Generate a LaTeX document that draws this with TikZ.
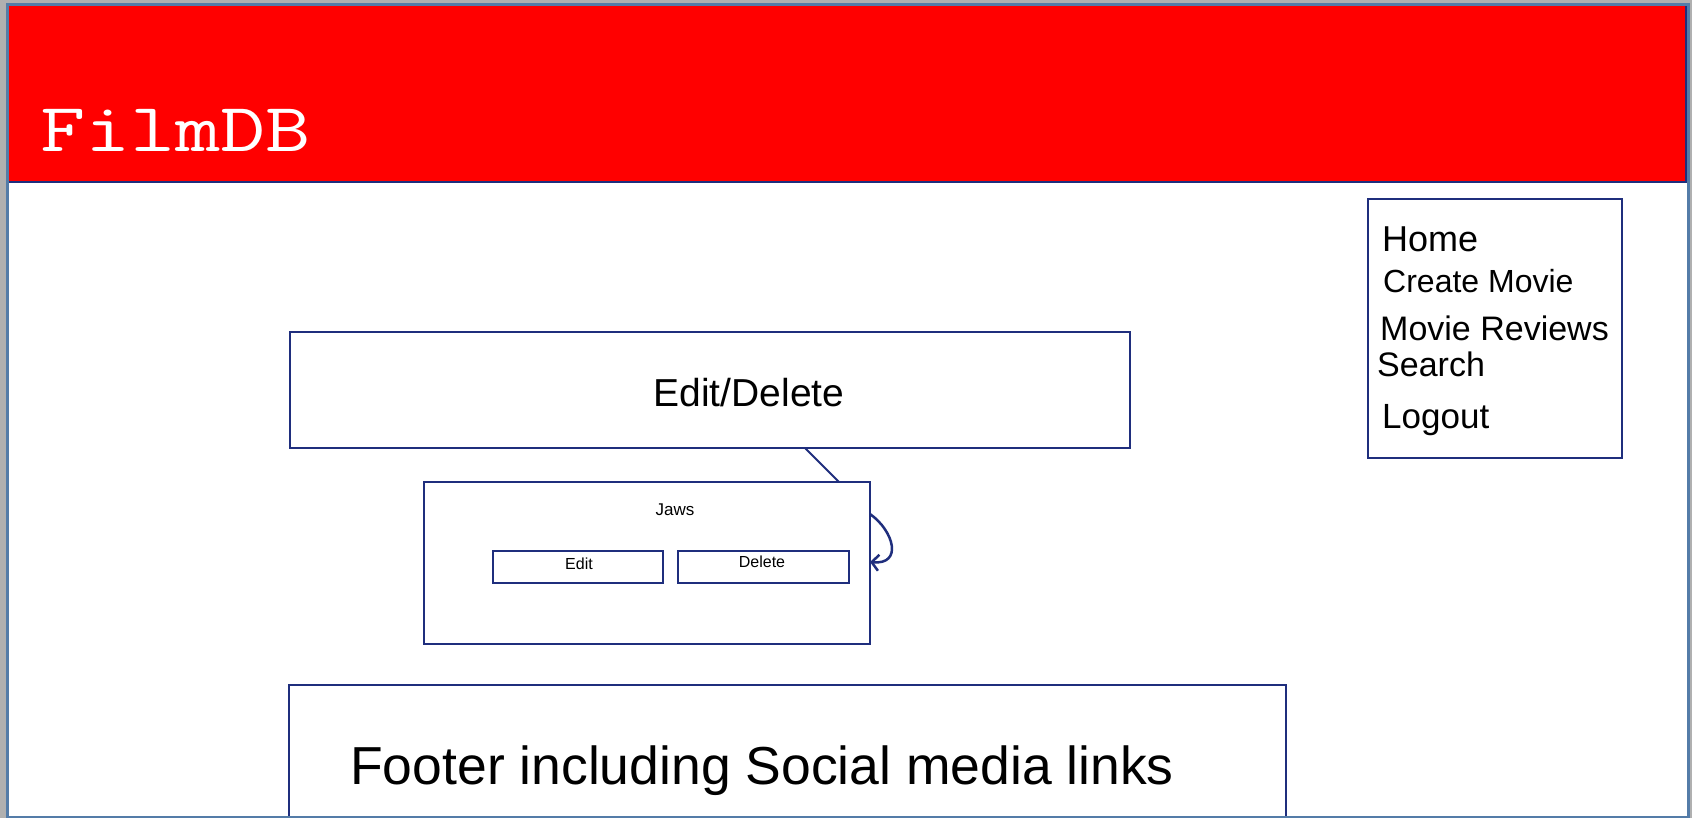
\documentclass[tikz,border=0pt]{standalone}
\usepackage{fontspec}
\setmainfont{Liberation Sans}
\usetikzlibrary{arrows.meta,positioning}
\definecolor{r255g0b0}{rgb}{1.000000,0.000000,0.000000}
\definecolor{r31g46b125}{rgb}{0.121569,0.180392,0.490196}
\definecolor{r84g124b168}{rgb}{0.329412,0.486275,0.658824}
\definecolor{r176g176b176}{rgb}{0.690196,0.690196,0.690196}
\tikzset{
  box/.style={draw=r31g46b125, line width=2.5pt, rectangle, inner sep=0pt, outer sep=0pt},
  txt/.style={inner sep=0pt, anchor=base west, text=black},
  ctxt/.style={inner sep=0pt, anchor=base, text=black},
}
\begin{document}
\begin{tikzpicture}[x=1pt,y=-1pt]
    \useasboundingbox (0,0) rectangle (1692,818);

    % Drawing window background
    \fill [r176g176b176] (0,0) rectangle (1692,818);
    \fill [white] (7,5) rectangle (1688,817);

    % Drawing header bar
    \node [fill=r255g0b0, minimum width=1678pt, minimum height=176pt, inner sep=0pt] (header) at (847,94) {};
    \draw [r31g46b125, line width=2.5pt] (header.south west) -- (header.south east) -- (header.north east);
    \node [txt, text=white, font=\ttfamily\fontsize{69}{75}\selectfont] (logo) at (40,152) {\scalebox{1.27}[1]{FilmDB}};

    % Drawing menu box
    \node [box, minimum width=254pt, minimum height=259pt] (menu) at (1495,328.5) {};
    \node [txt, font=\fontsize{36}{40}\selectfont] (home) at (1382,252) {Home};
    \node [txt, font=\fontsize{32}{36}\selectfont] (create) at (1383,293) {Create Movie};
    \node [txt, font=\fontsize{34}{38}\selectfont] (reviews) at (1380,341) {Movie Reviews};
    \node [txt, font=\fontsize{34}{38}\selectfont] (search) at (1377,376) {Search};
    \node [txt, font=\fontsize{35}{39}\selectfont] (logout) at (1382,428) {Logout};

    % Drawing edit/delete box
    \node [box, minimum width=840pt, minimum height=116pt] (editdel) at (710,390) {};
    \node [ctxt, font=\fontsize{39}{44}\selectfont] (editdeltext) at (749,406) {Edit/Delete};

    % Drawing movie card
    \node [box, minimum width=446pt, minimum height=162pt] (jaws) at (647,563) {};
    \node [ctxt, font=\fontsize{17}{20}\selectfont] (jawstext) at (675,515) {Jaws};
    \node [box, minimum width=170pt, minimum height=32pt] (editbtn) at (578,567) {};
    \node [ctxt, font=\fontsize{16}{19}\selectfont] (edittext) at (579,569) {Edit};
    \node [box, minimum width=171pt, minimum height=32pt] (deletebtn) at (763.5,567) {};
    \node [ctxt, font=\fontsize{16}{19}\selectfont] (deletetext) at (762,567) {Delete};

    % Drawing connectors
    \draw [r31g46b125, line width=2pt] ([xshift=95pt]editdel.south) -- ([xshift=192pt]jaws.north);
    \draw [r31g46b125, line width=2.5pt, -{Straight Barb[length=7pt,width=16pt]}] ([yshift=49pt]jaws.east) .. controls +(24,17) and +(33,3) .. ([yshift=1pt]jaws.east);

    % Drawing footer box
    \node [box, minimum width=997pt, minimum height=145pt] (footer) at (787.5,757.5) {};
    \node [txt, font=\fontsize{53.5}{60}\selectfont] (footertext) at (350,784) {Footer including Social media links};

    % Drawing window frame
    \draw [r84g124b168, line width=3pt] (7,5) rectangle (1688,817);
\end{tikzpicture}
\end{document}
